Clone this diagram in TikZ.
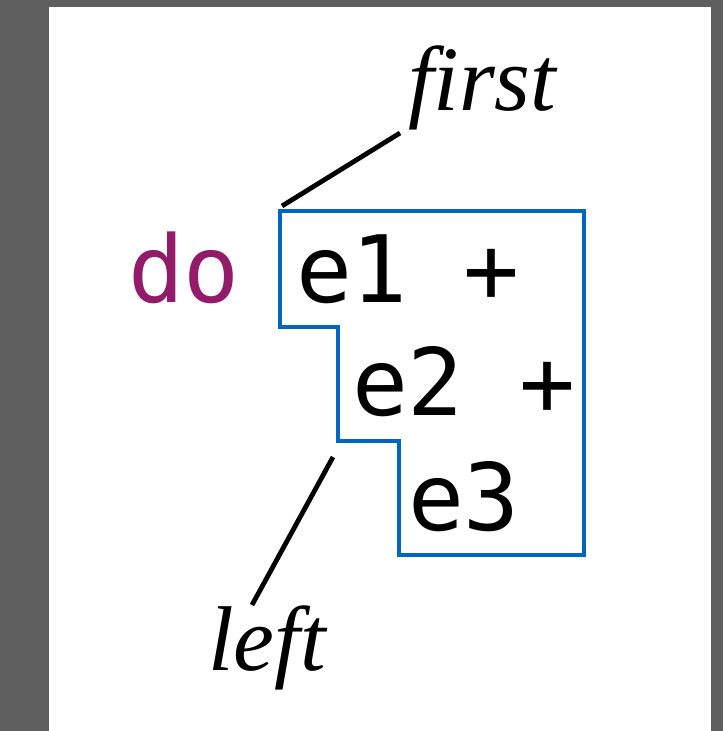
\documentclass[tikz,border=0pt]{standalone}
\usepackage{fontspec}
\setmainfont{Liberation Serif}
\newfontfamily\codefont{DejaVu Sans Mono}
\usetikzlibrary{positioning}
\definecolor{kwpurple}{HTML}{921B6A}
\definecolor{boxblue}{HTML}{0066C0}
\definecolor{pagegrey}{HTML}{5F5F5F}

\begin{document}
\begin{tikzpicture}[x=1pt, y=-1pt,
  code/.style={font=\codefont\fontsize{93}{114}\selectfont, inner sep=0pt, outer sep=0pt, anchor=base west},
  lbl/.style={font=\itshape\fontsize{92}{110}\selectfont, inner sep=0pt, outer sep=0pt, anchor=base west},
  pointer/.style={line width=4.8pt}]
% page and margins
\fill[pagegrey] (0,0) rectangle (723,731);
\fill[white] (49,7) rectangle (711,731);
\useasboundingbox (0,0) rectangle (723,731);
% code lines
\node[code, text=kwpurple] (kwdo) at (128,302) {do};
\node[code] (lineone) at (296,302) {e1 +};
\node[code] (linetwo) at (352,415) {e2 +};
\node[code] (linethree) at (408,530) {e3};
% staircase outline round the expression
\draw[boxblue, line width=4.5pt] (280,211) -- (584,211) -- (584,555) -- (399,555)
  -- (399,441) -- (338,441) -- (338,327) -- (280,327) -- cycle;
% labels
\node[lbl] (firstlbl) at (408,110) {first};
\node[lbl] (leftlbl) at (208,670) {left};
% pointers
\coordinate (firstfoot) at (282,206);
\coordinate (firsthead) at (400,133);
\coordinate (leftfoot) at (333,457);
\coordinate (lefthead) at (252,605);
\draw[pointer] (firstfoot) -- (firsthead);
\draw[pointer] (leftfoot) -- (lefthead);
\end{tikzpicture}
\end{document}
